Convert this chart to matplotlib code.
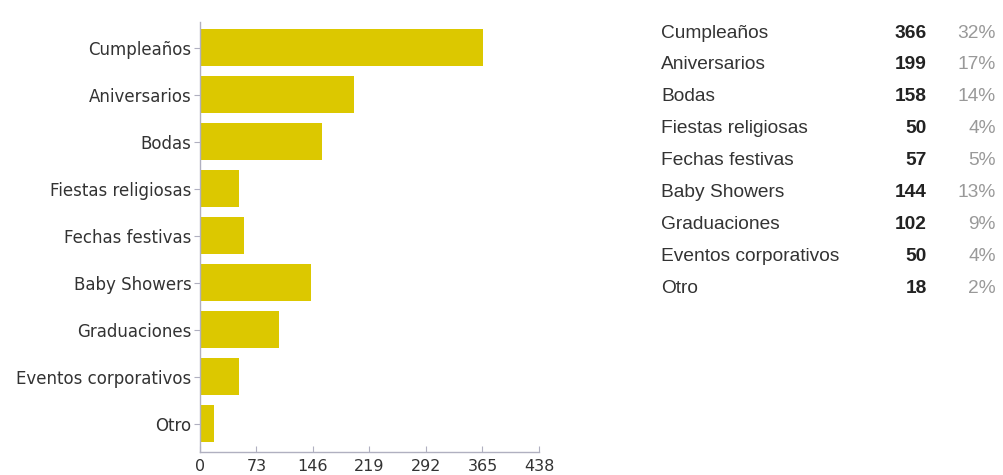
import matplotlib
matplotlib.use("Agg")
import matplotlib.pyplot as plt

categories = ["Cumpleaños", "Aniversarios", "Bodas", "Fiestas religiosas", "Fechas festivas",
              "Baby Showers", "Graduaciones", "Eventos corporativos", "Otro"]
counts = [366, 199, 158, 50, 57, 144, 102, 50, 18]
percents = ["32%", "17%", "14%", "4%", "5%", "13%", "9%", "4%", "2%"]
xticks = [0, 73, 146, 219, 292, 365, 438]

plt.rcParams['font.family'] = ['DejaVu Sans']

W, H = 1004, 475
fig = plt.figure(figsize=(W / 100, H / 100), dpi=100)
fig.patch.set_facecolor("white")

ax_l, ax_r = 200 / W, 539 / W
ax_top, ax_bot = 22 / H, 452 / H
ax = fig.add_axes([ax_l, 1 - ax_bot, ax_r - ax_l, ax_bot - ax_top])

y = list(range(len(categories)))
ax.barh(y, counts, height=0.79, color="#DCC800", zorder=2)
ax.set_xlim(0, 438)
ax.set_ylim(8.6, -0.55)
ax.set_yticks(y)
ax.set_yticklabels(categories, fontsize=12, color="#333333")
ax.set_xticks(xticks)
ax.set_xticklabels([str(v) for v in xticks], fontsize=11.5, color="#333333")
for s in ["top", "right"]:
    ax.spines[s].set_visible(False)
for s in ["left", "bottom"]:
    ax.spines[s].set_color("#b0b0c0")
    ax.spines[s].set_linewidth(1)
ax.tick_params(axis="y", length=4, color="#b0b0c0", pad=2)
ax.tick_params(axis="x", direction="in", length=4, color="#b0b0c0", pad=5)

# Right-hand table
tfont = ['Liberation Sans', 'DejaVu Sans']
row0 = 33
dy = 31.9
for i, (c, n, p) in enumerate(zip(categories, counts, percents)):
    yy = 1 - (row0 + i * dy) / H
    fig.text(661 / W, yy, c, fontsize=13.8, family=tfont, color="#333333", va="center", ha="left")
    fig.text(927 / W, yy, str(n), fontsize=13.8, family=tfont, color="#222222",
             fontweight="bold", va="center", ha="right")
    fig.text(996 / W, yy, p, fontsize=13.8, family=tfont, color="#999999", va="center", ha="right")

fig.savefig("out.png", dpi=100)
